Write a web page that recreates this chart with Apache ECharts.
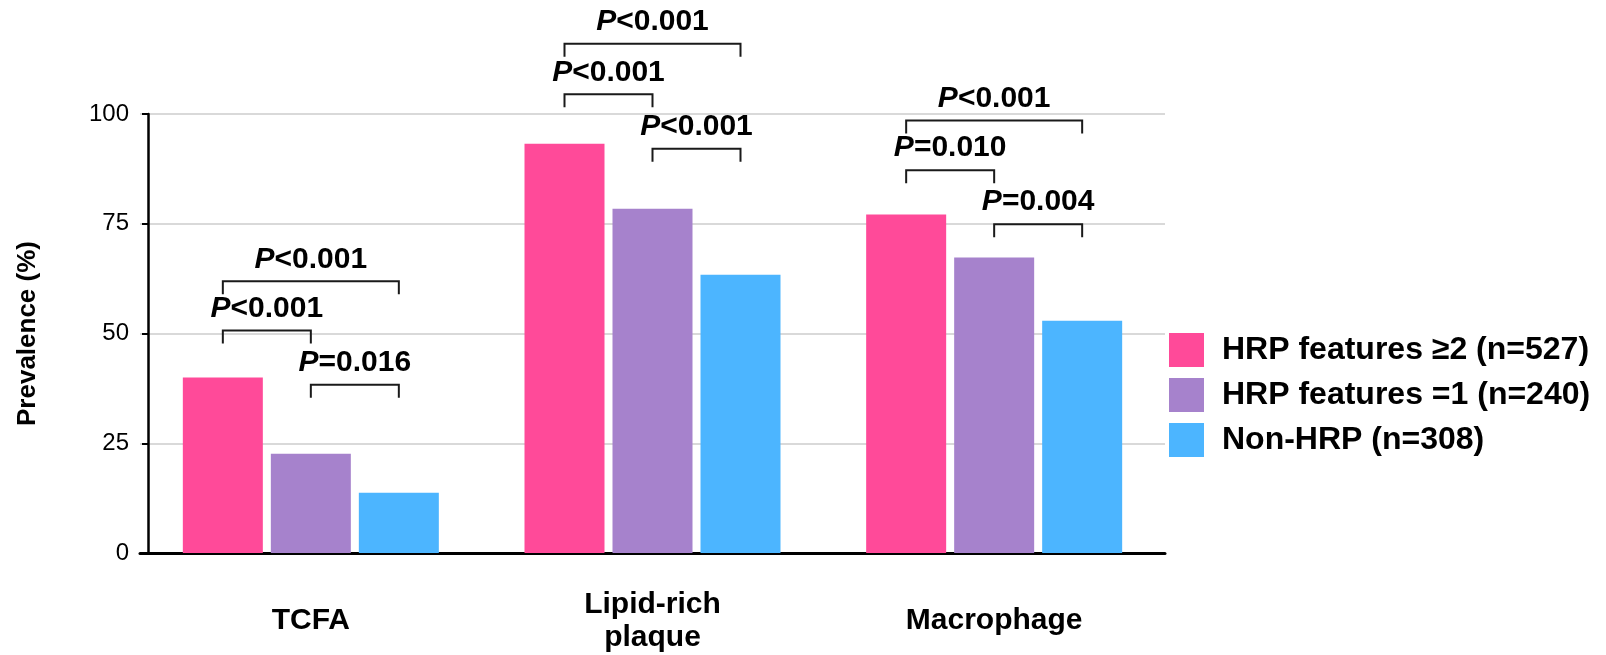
<!DOCTYPE html>
<html>
<head>
<meta charset="utf-8">
<script src="https://cdn.jsdelivr.net/npm/echarts@6/dist/echarts.min.js"></script>
<style>
  html, body { margin: 0; padding: 0; background: #fff; }
  #chart { width: 1606px; height: 655px; }
</style>
</head>
<body>
<div id="chart"></div>
<script>
// ---- data ----
const categories = ['TCFA', 'Lipid-rich\nplaque', 'Macrophage'];
const seriesNames = ['HRP features \u22652 (n=527)', 'HRP features =1 (n=240)', 'Non-HRP (n=308)'];
const hrp2 = [40.0, 93.2, 77.1];
const hrp1 = [22.6, 78.4, 67.3];
const nonHrp = [13.7, 63.4, 52.9];
const yMin = 0, yMax = 100, yInterval = 25;

// significance brackets: category index, from-bar index, to-bar index, bracket level (%)
const bracketCategory = [0, 0, 0, 1, 1, 1, 2, 2, 2];
const bracketFrom     = [0, 0, 1, 0, 0, 1, 0, 0, 1];
const bracketTo       = [2, 1, 2, 2, 1, 2, 2, 1, 2];
const bracketLevel    = [61.9, 50.7, 38.3, 116.0, 104.5, 92.1, 98.5, 87.2, 74.9];
const pOperator       = ['<', '<', '=', '<', '<', '<', '<', '=', '='];
const pValue          = ['0.001', '0.001', '0.016', '0.001', '0.001', '0.001', '0.001', '0.010', '0.004'];

// ---- style ----
const FONT = "'Liberation Sans', Arial, Helvetica, sans-serif";
const COLORS = ['#FF4A99', '#A682CC', '#4CB5FF'];
const BAR_W = 80, BAR_GAP = 8;

const chart = echarts.init(document.getElementById('chart'), null, { renderer: 'canvas' });

const bracketData = bracketCategory.map((c, i) => [c, bracketFrom[i], bracketTo[i], bracketLevel[i]]);

function renderBracket(params, api) {
  const cat = api.value(0), a = api.value(1), b = api.value(2), lvl = api.value(3);
  const pt = api.coord([cat, lvl]);
  const step = BAR_W + BAR_GAP;
  const x1 = pt[0] + (a - 1) * step;
  const x2 = pt[0] + (b - 1) * step;
  const y = pt[1];
  const leg = 13;
  const i = params.dataIndex;
  return {
    type: 'group',
    children: [
      {
        type: 'polyline',
        shape: { points: [[x1, y + leg], [x1, y], [x2, y], [x2, y + leg]] },
        style: { stroke: '#1a1a1a', lineWidth: 2, fill: null }
      },
      {
        type: 'text',
        style: {
          x: (x1 + x2) / 2,
          y: y - 22,
          align: 'center',
          verticalAlign: 'middle',
          text: '{i|P}{n|' + pOperator[i] + pValue[i] + '}',
          fill: '#000',
          rich: {
            i: { fontStyle: 'italic', fontWeight: 'bold', fontSize: 30, fontFamily: FONT, fill: '#000' },
            n: { fontWeight: 'bold', fontSize: 30, fontFamily: FONT, fill: '#000' }
          }
        }
      }
    ]
  };
}

const option = {
  animation: false,
  backgroundColor: '#fff',
  textStyle: { fontFamily: FONT },
  grid: { left: 140, top: 114, width: 1025, bottom: 102, containLabel: false },
  legend: {
    data: seriesNames,
    orient: 'vertical',
    left: 1164,
    top: 328,
    itemWidth: 35,
    itemHeight: 34,
    itemGap: 11,
    icon: 'rect',
    textStyle: { fontFamily: FONT, fontSize: 32, fontWeight: 'bold', color: '#000', padding: [0, 0, 0, 13] }
  },
  xAxis: {
    type: 'category',
    data: categories,
    axisLine: { show: true, lineStyle: { color: '#000', width: 3 } },
    axisTick: { show: false },
    axisLabel: {
      color: '#000', fontFamily: FONT, fontSize: 30, fontWeight: 'bold',
      lineHeight: 33, margin: 68, verticalAlign: 'middle', interval: 0
    },
    splitLine: { show: false }
  },
  yAxis: {
    type: 'value',
    min: yMin, max: yMax, interval: yInterval,
    offset: -8,
    name: 'Prevalence (%)',
    nameLocation: 'middle',
    nameGap: 107,
    nameRotate: 90,
    nameTextStyle: { fontFamily: FONT, fontSize: 26, fontWeight: 'bold', color: '#000' },
    axisLine: { show: true, lineStyle: { color: '#000', width: 2.5 } },
    axisTick: { show: true, length: 6, lineStyle: { color: '#000', width: 2 } },
    axisLabel: { color: '#000', fontFamily: FONT, fontSize: 24, margin: 19 },
    splitLine: { show: true, lineStyle: { color: '#d9d9d9', width: 2 } }
  },
  series: [
    { name: seriesNames[0], type: 'bar', data: hrp2, barWidth: BAR_W, barGap: (BAR_GAP / BAR_W * 100) + '%', itemStyle: { color: COLORS[0] } },
    { name: seriesNames[1], type: 'bar', data: hrp1, barWidth: BAR_W, barGap: (BAR_GAP / BAR_W * 100) + '%', itemStyle: { color: COLORS[1] } },
    { name: seriesNames[2], type: 'bar', data: nonHrp, barWidth: BAR_W, barGap: (BAR_GAP / BAR_W * 100) + '%', itemStyle: { color: COLORS[2] } },
    {
      name: 'brackets', type: 'custom', renderItem: renderBracket, data: bracketData,
      encode: { x: 0, y: 3 }, clip: false, silent: true, z: 5
    }
  ]
};

chart.setOption(option);
</script>
</body>
</html>
